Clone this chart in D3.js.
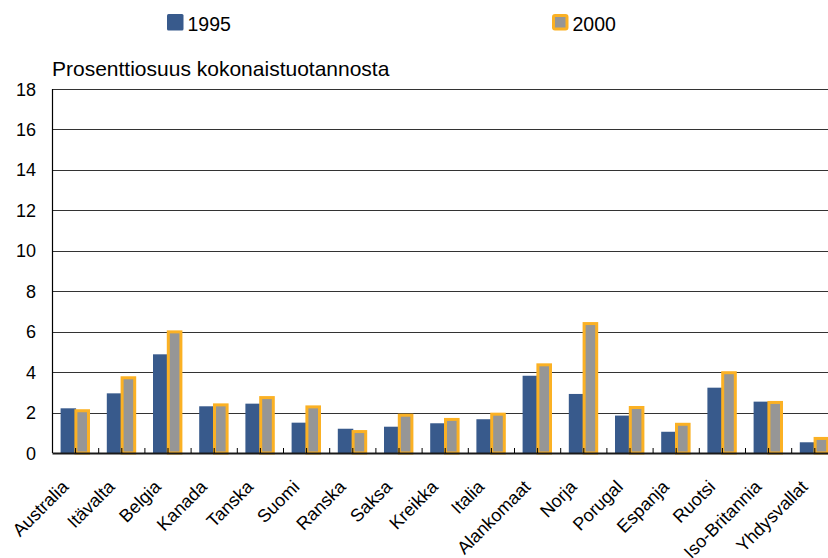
<!DOCTYPE html>
<html>
<head>
<meta charset="utf-8">
<script src="https://d3js.org/d3.v7.min.js"></script>
<style>
  body { margin: 0; background: #fff; }
  text { font-family: "Liberation Sans", Arial, sans-serif; fill: #000; }
</style>
</head>
<body>
<div id="chart"></div>
<script>
// data
var countries = ["Australia", "Itävalta", "Belgia", "Kanada", "Tanska", "Suomi", "Ranska", "Saksa",
  "Kreikka", "Italia", "Alankomaat", "Norja", "Porugal", "Espanja", "Ruotsi", "Iso-Britannia", "Yhdysvallat"];
var v1995 = [2.21, 2.95, 4.88, 2.31, 2.44, 1.5, 1.2, 1.3, 1.47, 1.67, 3.82, 2.92, 1.85, 1.05, 3.23, 2.54, 0.53];
var v2000 = [2.09, 3.72, 5.99, 2.38, 2.74, 2.28, 1.06, 1.87, 1.66, 1.92, 4.36, 6.4, 2.25, 1.42, 3.97, 2.5, 0.72];
var yTicks = [0, 2, 4, 6, 8, 10, 12, 14, 16, 18];

var W = 828, H = 558;
var mLeft = 52.5, mTop = 89, mBottom = 453, step = 46.2;

var svg = d3.select("#chart").append("svg")
  .attr("width", W).attr("height", H);

var x = d3.scaleBand()
  .domain(countries)
  .range([mLeft, mLeft + step * countries.length])
  .padding(0);

var y = d3.scaleLinear()
  .domain([0, 18])
  .range([mBottom, mTop]);

// grid lines
svg.append("g")
  .selectAll("line")
  .data(yTicks.filter(function(d) { return d > 0; }))
  .enter().append("line")
    .attr("x1", mLeft).attr("x2", W)
    .attr("y1", function(d) { return Math.round(y(d)) + 0.5; })
    .attr("y2", function(d) { return Math.round(y(d)) + 0.5; })
    .attr("stroke", "#333").attr("stroke-width", 1);

// y axis labels
svg.append("g")
  .selectAll("text")
  .data(yTicks)
  .enter().append("text")
    .attr("x", 36)
    .attr("y", function(d) { return y(d) + 6.5; })
    .attr("text-anchor", "end")
    .style("font-size", "18px")
    .text(function(d) { return d; });

// axis title
svg.append("text")
  .attr("x", 52).attr("y", 75.5)
  .style("font-size", "21px")
  .text("Prosenttiosuus kokonaistuotannosta");

// 1995 bars
svg.append("g")
  .selectAll("rect")
  .data(countries)
  .enter().append("rect")
    .attr("x", function(d) { return x(d) + x.bandwidth() / 2 - 15; })
    .attr("width", 15.5)
    .attr("y", function(d, i) { return y(v1995[i]); })
    .attr("height", function(d, i) { return mBottom - y(v1995[i]); })
    .attr("fill", "#385a8c");

// 2000 bars
svg.append("g")
  .selectAll("rect")
  .data(countries)
  .enter().append("rect")
    .attr("x", function(d) { return x(d) + x.bandwidth() / 2 + 0.3; })
    .attr("width", 12.6)
    .attr("y", function(d, i) { return y(v2000[i]); })
    .attr("height", function(d, i) { return mBottom - y(v2000[i]); })
    .attr("fill", "#969696")
    .attr("stroke", "#fbb124")
    .attr("stroke-width", 3);

// axis lines
svg.append("line")
  .attr("x1", mLeft).attr("x2", mLeft)
  .attr("y1", mTop).attr("y2", mBottom)
  .attr("stroke", "#000").attr("stroke-width", 1.2);
svg.append("line")
  .attr("x1", mLeft).attr("x2", W)
  .attr("y1", mBottom + 0.5).attr("y2", mBottom + 0.5)
  .attr("stroke", "#1a1a1a").attr("stroke-width", 2.2);

// small ticks at centres and boundaries
var tickPos = [];
countries.forEach(function(d) {
  tickPos.push(x(d) + x.bandwidth() / 2);
  tickPos.push(x(d) + x.bandwidth());
});
svg.append("g")
  .selectAll("line")
  .data(tickPos)
  .enter().append("line")
    .attr("x1", function(d) { return d; }).attr("x2", function(d) { return d; })
    .attr("y1", mBottom - 5).attr("y2", mBottom)
    .attr("stroke", "#000").attr("stroke-width", 1);

// category labels
svg.append("g")
  .selectAll("text")
  .data(countries)
  .enter().append("text")
    .attr("text-anchor", "end")
    .attr("transform", function(d) {
      return "translate(" + (x(d) + x.bandwidth() / 2 - 6) + "," + (mBottom + 35) + ") rotate(-45)";
    })
    .style("font-size", "18px")
    .text(function(d) { return d; });

// legend
var legend = [{label: "1995", x: 167, fill: "#385a8c", stroke: null},
              {label: "2000", x: 552, fill: "#969696", stroke: "#fbb124"}];
var lg = svg.append("g").selectAll("g").data(legend).enter().append("g");
lg.append("rect")
  .attr("x", function(d) { return d.stroke ? d.x + 1.5 : d.x; })
  .attr("y", function(d) { return d.stroke ? 15.5 : 14; })
  .attr("width", function(d) { return d.stroke ? 13.5 : 16.5; })
  .attr("height", function(d) { return d.stroke ? 13.5 : 16.5; })
  .attr("rx", 1.5)
  .attr("fill", function(d) { return d.fill; })
  .attr("stroke", function(d) { return d.stroke; })
  .attr("stroke-width", 3);
lg.append("text")
  .attr("x", function(d) { return d.x + 20.5; })
  .attr("y", 31)
  .style("font-size", "19.5px")
  .text(function(d) { return d.label; });
</script>
</body>
</html>
